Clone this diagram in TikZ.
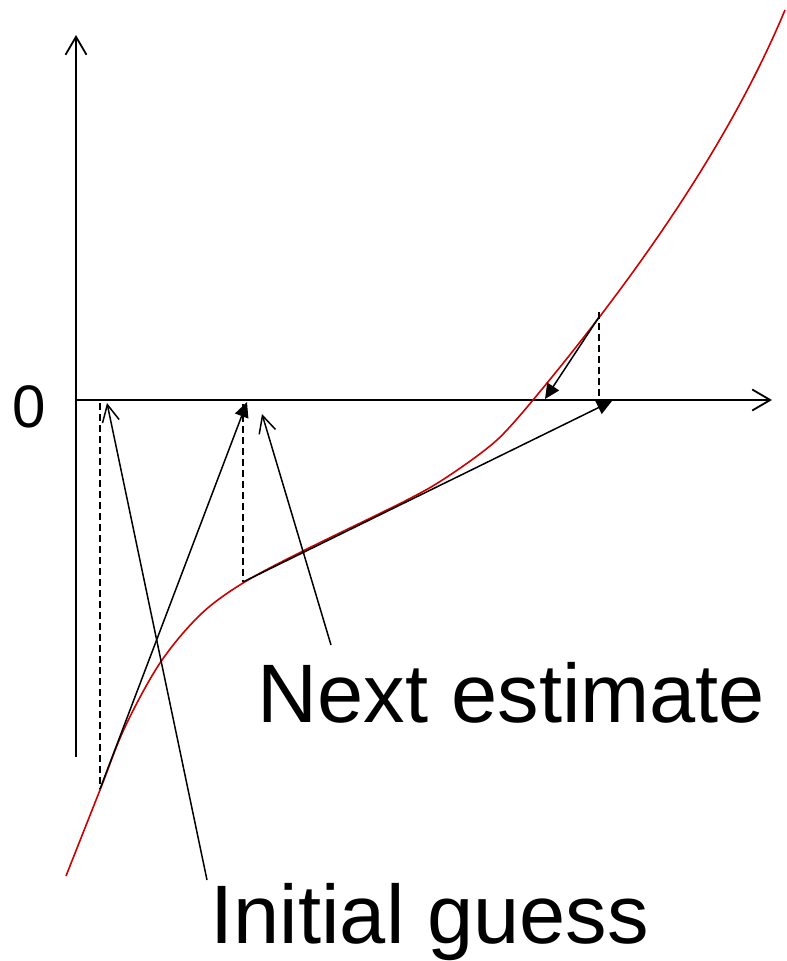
\documentclass[tikz,border=0pt]{standalone}
\usepackage{fontspec}
\setmainfont{Liberation Sans}
\usepackage{tikz}
\usetikzlibrary{arrows.meta,positioning}
\usepackage{xcolor}
\definecolor{curvered}{RGB}{204,0,0}

\begin{document}
\begin{tikzpicture}[x=1pt,y=-1pt,line width=1.5pt,
  axis/.style={line width=1.8pt,-{Straight Barb[length=18pt,width=21pt]}},
  tangent/.style={-{Triangle[length=15pt,width=14pt]}},
  pointer/.style={-{Straight Barb[length=17pt,width=17pt]}},
  drop/.style={dash pattern=on 7pt off 4pt},
  label/.style={font=\fontsize{83}{88}\selectfont,inner sep=0pt,anchor=base west}]
\useasboundingbox (0,0) rectangle (787,961);
% axes
\draw[axis] (76,757) -- (76,35);
\draw[axis] (76,400) -- (772,400);
\node[font=\fontsize{60}{64}\selectfont,inner sep=0pt] (zero) at (29,407) {0};
% the function
\draw[curvered,line width=1.6pt] plot[smooth,tension=0.55] coordinates {(66,876) (100,790) (125,727) (160,663) (200,615) (243,583) (303,551) (407,500) (450,475) (497,440) (533,400)}
  .. controls (623,292) and (725,154) .. (785,10);
% points on the curve and on the axis
\coordinate (p0) at (100,789);
\coordinate (p1) at (243,582);
\coordinate (p2) at (599,317);
\coordinate (x0) at (100,403);
\coordinate (x1) at (247,402);
\coordinate (x2) at (612,401);
\coordinate (x3) at (545,399);
% Newton steps
\draw[drop] (x0) -- (p0);
\draw[drop] (243,404) -- (p1);
\draw[drop] (599,312) -- (599,399);
\draw[tangent] (p0) -- (x1);
\draw[tangent] (p1) -- (x2);
\draw[tangent] (p2) -- (x3);
% labels
\node[label] (guess) at (210,943) {Initial guess};
\node[label] (next) at (257,722) {Next estimate};
\coordinate (gtail) at (207,880);
\coordinate (ntail) at (331,645);
\draw[pointer] (gtail) -- (107,403);
\draw[pointer] (ntail) -- (262,414);
\end{tikzpicture}
\end{document}
